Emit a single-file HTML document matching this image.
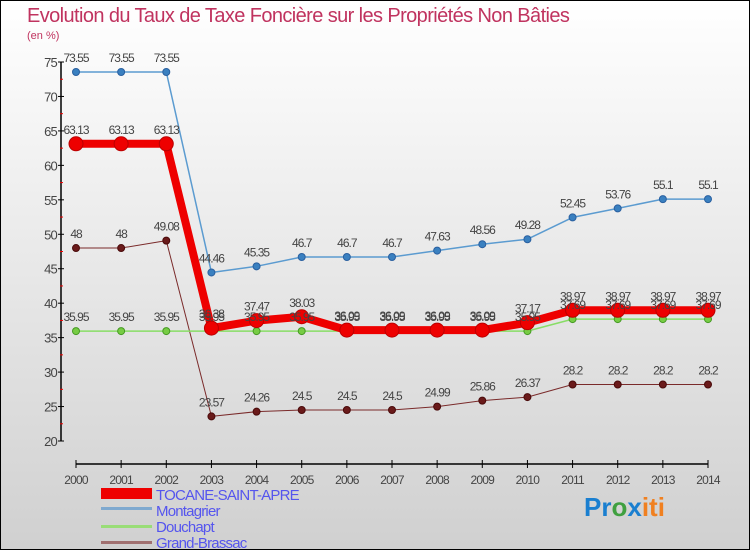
<!DOCTYPE html>
<html><head><meta charset="utf-8"><style>
body{margin:0}
#wrap{width:750px;height:550px;position:relative;overflow:hidden;box-sizing:border-box;border:1px solid #000;background:linear-gradient(#ffffff,#d0d0d0);font-family:"Liberation Sans",sans-serif}
svg text{font-family:"Liberation Sans",sans-serif}
</style></head><body>
<div id="wrap">
<svg id="chart" width="750" height="550">
<text x="26" y="21" font-size="20" fill="#c0335f" letter-spacing="-0.6">Evolution du Taux de Taxe Foncière sur les Propriétés Non Bâties</text>
<text x="26" y="38" font-size="11" fill="#c0335f">(en %)</text>
<g id="axes"></g>
<g id="series"></g>
<g id="labels"></g>
<g font-size="15" fill="#5555ee" letter-spacing="-0.8">
<rect x="100" y="487" width="51" height="11" fill="#ee0000"/>
<text x="155" y="499">TOCANE-SAINT-APRE</text>
<rect x="100" y="506" width="51" height="3" fill="#7fa9cf"/>
<text x="155" y="515">Montagrier</text>
<rect x="100" y="524" width="51" height="3" fill="#99dd77"/>
<text x="155" y="531">Douchapt</text>
<rect x="100" y="540" width="51" height="3" fill="#a07070"/>
<text x="155" y="547">Grand-Brassac</text>
</g>
<text x="583" y="515" font-size="26" font-weight="bold"><tspan fill="#1a7fd0">Pr</tspan><tspan fill="#40a040">o</tspan><tspan fill="#1a7fd0">x</tspan><tspan fill="#f08020">iti</tspan></text>
</svg>
</div>
<script>
const years=[2000,2001,2002,2003,2004,2005,2006,2007,2008,2009,2010,2011,2012,2013,2014];
const yTicks=[20,25,30,35,40,45,50,55,60,65,70,75];
const tocane=[63.13,63.13,63.13,36.38,37.47,38.03,36.09,36.09,36.09,36.09,37.17,38.97,38.97,38.97,38.97];
const montagrier=[73.55,73.55,73.55,44.46,45.35,46.7,46.7,46.7,47.63,48.56,49.28,52.45,53.76,55.1,55.1];
const douchapt=[35.95,35.95,35.95,35.95,35.95,35.95,35.95,35.95,35.95,35.95,35.95,37.69,37.69,37.69,37.69];
const grandBrassac=[48,48,49.08,23.57,24.26,24.5,24.5,24.5,24.99,25.86,26.37,28.2,28.2,28.2,28.2];
const NS="http://www.w3.org/2000/svg";
const X0=75,X1=707,Y0=440,Y1=61,VMIN=20,VMAX=75;
function xs(i){return X0+(X1-X0)*i/(years.length-1);}
function ys(v){return Y0-(v-VMIN)*(Y0-Y1)/(VMAX-VMIN);}
function mk(tag,attrs,parent){const e=document.createElementNS(NS,tag);for(const k in attrs)e.setAttribute(k,attrs[k]);parent.appendChild(e);return e;}
const axes=document.getElementById('axes'),ser=document.getElementById('series'),lab=document.getElementById('labels');
let a=mk('line',{x1:60,y1:Y1,x2:60,y2:Y0,stroke:'#000','stroke-width':1.5},axes);


a=mk('line',{x1:75,y1:463,x2:707,y2:463,stroke:'#000','stroke-width':1.5},axes);


yTicks.forEach(v=>{
 const t=mk('line',{x1:57,y1:ys(v),x2:63,y2:ys(v),stroke:'#000'},axes);
 
 
 const tx=mk('text',{x:56,y:ys(v)+5,'font-size':13,fill:'#444','text-anchor':'end','letter-spacing':'-0.8'},axes);
 tx.textContent=v;
 
 
 if(v<75){const m=mk('line',{x1:59,y1:ys(v+2.5),x2:62,y2:ys(v+2.5),stroke:'#e00'},axes);
 
 }
});
years.forEach((y,i)=>{
 const t=mk('line',{x1:xs(i),y1:459,x2:xs(i),y2:467,stroke:'#000'},axes);
 
 
 const tx=mk('text',{x:xs(i),y:483,'font-size':12,fill:'#444','text-anchor':'middle','letter-spacing':'-0.8'},axes);
 tx.textContent=y;
 
 
});
function draw(data,name,color,w,r,dot,dotStroke){
 const pts=data.map((v,i)=>xs(i)+','+ys(v)).join(' ');
 const pl=mk('polyline',{points:pts,fill:'none',stroke:color,'stroke-width':w,'stroke-linejoin':'round'},ser);
 
 
 data.forEach((v,i)=>{
  const c=mk('circle',{cx:xs(i),cy:ys(v),r:r,fill:dot,stroke:dotStroke,'stroke-width':1},ser);
  
  
  const t=mk('text',{x:xs(i),y:ys(v)-10,'font-size':12,fill:'#444','text-anchor':'middle','letter-spacing':'-1'},lab);
  t.textContent=v;
  
  
 });
}
draw(grandBrassac,'grand-brassac','#7a2a2a',1,3.5,'#6a1a1a','#4a0a0a');
draw(douchapt,'douchapt','#88dd66',1.5,3.5,'#77cc44','#449922');
draw(montagrier,'montagrier','#5b9bd0',1.5,3.5,'#3a80c0','#2a60a0');
draw(tocane,'tocane','#ee0000',8,7,'#ee0000','#bb0000');
</script>
</body></html>
